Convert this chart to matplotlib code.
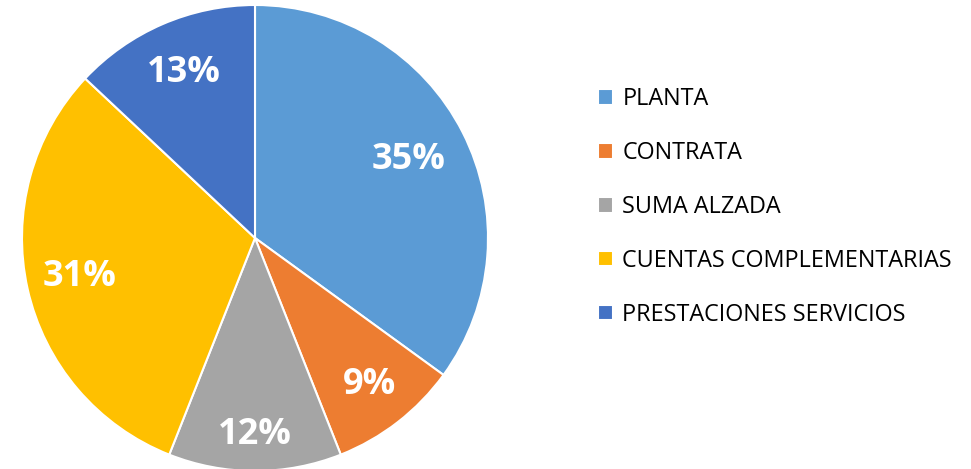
import matplotlib
matplotlib.use("Agg")
import matplotlib.pyplot as plt
import numpy as np

categories = ["PLANTA", "CONTRATA", "SUMA ALZADA", "CUENTAS COMPLEMENTARIAS", "PRESTACIONES SERVICIOS"]
values = [35, 9, 12, 31, 13]
colors = ["#5B9BD5", "#ED7D31", "#A5A5A5", "#FFC000", "#4472C4"]
# how far out (fraction of radius) each percentage label sits
label_dist = [0.74, 0.80, 0.845, 0.77, 0.77]

plt.rcParams["font.family"] = ["Open Sans", "DejaVu Sans"]

fig = plt.figure(figsize=(9.71, 4.69), dpi=100)
# pie centre ~ (255, 238) px, radius ~ 233 px
ax = fig.add_axes([22 / 971, (469 - 238 - 233) / 469, 466 / 971, 466 / 469])

wedges, texts, autotexts = ax.pie(
    values, colors=colors, startangle=90, counterclock=False,
    autopct="%1.0f%%", pctdistance=0.78,
    wedgeprops=dict(edgecolor="white", linewidth=1.5),
    textprops=dict(color="white", fontsize=26, fontweight="bold"),
)
for w, t, d in zip(wedges, autotexts, label_dist):
    ang = np.deg2rad((w.theta1 + w.theta2) / 2)
    t.set_position((d * np.cos(ang), d * np.sin(ang)))

ax.set_aspect("equal")
ax.set_xlim(-1, 1)
ax.set_ylim(-1, 1)

fig.legend(
    wedges, categories, loc="center left", bbox_to_anchor=(598 / 971, 1 - 207 / 469),
    frameon=False, fontsize=16.8, handlelength=0.64, handleheight=0.64,
    handletextpad=0.4, labelspacing=1.28, borderaxespad=0, borderpad=0,
)

fig.savefig("out.png", dpi=100)
